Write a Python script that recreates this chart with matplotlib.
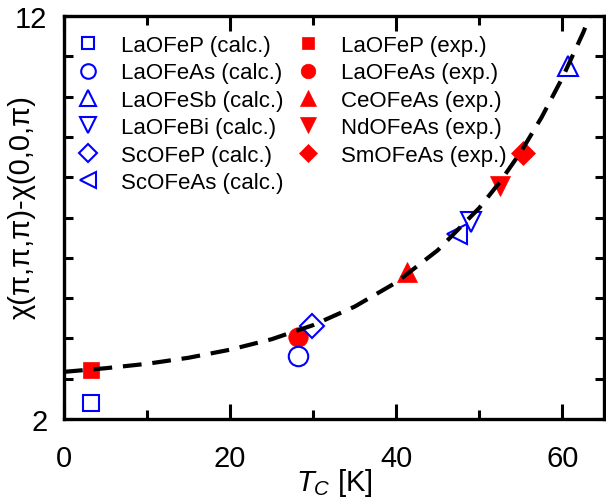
import matplotlib
matplotlib.use("Agg")
import matplotlib.pyplot as plt

plt.rcParams['font.family'] = ['Liberation Sans', 'DejaVu Sans']
plt.rcParams['mathtext.fontset'] = 'custom'
plt.rcParams['mathtext.it'] = 'Liberation Sans:italic'
plt.rcParams['mathtext.rm'] = 'Liberation Sans'

# --- data ---
calc_names = ['LaOFeP', 'LaOFeAs', 'LaOFeSb', 'LaOFeBi', 'ScOFeP', 'ScOFeAs']
calc_tc = [3.2, 28.2, 60.7, 49.0, 29.9, 47.3]
calc_chi = [2.40, 3.56, 10.75, 6.88, 4.31, 6.59]
calc_markers = ['s', 'o', '^', 'v', 'D', '<']

exp_names = ['LaOFeP', 'LaOFeAs', 'CeOFeAs', 'NdOFeAs', 'SmOFeAs']
exp_tc = [3.2, 28.2, 41.3, 52.5, 55.3]
exp_chi = [3.22, 4.03, 5.66, 7.77, 8.59]
exp_markers = ['s', 'o', '^', 'v', 'D']

fit_tc = [0, 5, 10, 15, 20, 25, 30, 35, 40, 45, 50, 52.5, 55, 57.5, 60, 62.5, 65]
fit_chi = [3.17, 3.26, 3.37, 3.52, 3.72, 3.98, 4.33, 4.79, 5.39, 6.19, 7.24,
           7.89, 8.63, 9.49, 10.47, 11.59, 12.89]

x_ticks = [0, 20, 40, 60]
x_minor = [10, 30, 50]
y_ticks = list(range(2, 13))
y_labels = ['2'] + [''] * 9 + ['12']

BLUE = '#0000ff'
RED = '#ff0000'

sizes = {'s': 12, 'o': 14, '^': 15, 'v': 15, 'D': 12, '<': 15}

fig = plt.figure(figsize=(6.06, 5.02), dpi=100)
ax = fig.add_axes([64 / 606, 1 - 420 / 502, 540 / 606, 403 / 502])

handles = []
for n, x, y, m in zip(calc_names, calc_tc, calc_chi, calc_markers):
    h, = ax.plot([x], [y], linestyle='none', marker=m, markersize=sizes[m],
                 markerfacecolor='none', markeredgecolor=BLUE, markeredgewidth=1.5,
                 label=f'{n} (calc.)', zorder=4)
    handles.append(h)
for n, x, y, m in zip(exp_names, exp_tc, exp_chi, exp_markers):
    h, = ax.plot([x], [y], linestyle='none', marker=m, markersize=sizes[m],
                 markerfacecolor=RED, markeredgecolor=RED, markeredgewidth=0.5,
                 label=f'{n} (exp.)', zorder=3)
    handles.append(h)

ax.plot(fit_tc, fit_chi, color='black', linewidth=3.0, dashes=(4.5, 2.6), zorder=5)

ax.set_xlim(0, 65)
ax.set_ylim(2, 12)
ax.set_xticks(x_ticks)
ax.set_xticks(x_minor, minor=True)
ax.set_yticks(y_ticks)
ax.set_yticklabels(y_labels)

ax.tick_params(axis='x', which='major', direction='in', length=11, width=2.2,
               top=True, labelsize=21, pad=18)
ax.tick_params(axis='x', which='minor', direction='in', length=6.5, width=2.2, top=True)
ax.tick_params(axis='y', which='major', direction='in', length=6.5, width=2.2,
               right=True, labelsize=21, pad=12)
for s in ax.spines.values():
    s.set_linewidth(2.4)

ax.set_xlabel('$T_C$ [K]', fontsize=21, labelpad=-4)
ax.set_ylabel('χ(π,π,π)-χ(0,0,π)', fontsize=21)
ax.yaxis.label.set_verticalalignment('center')
ax.yaxis.set_label_coords(-0.078, (420 - 207.5) / 403)

leg = ax.legend(handles=handles, ncol=2, loc='upper left',
                bbox_to_anchor=(0.024, 0.953), frameon=False, fontsize=16,
                markerscale=0.75, handlelength=1.0, handletextpad=1.0,
                columnspacing=0.58, labelspacing=0.29, borderpad=0, borderaxespad=0)

fig.savefig('out.png', dpi=100)
